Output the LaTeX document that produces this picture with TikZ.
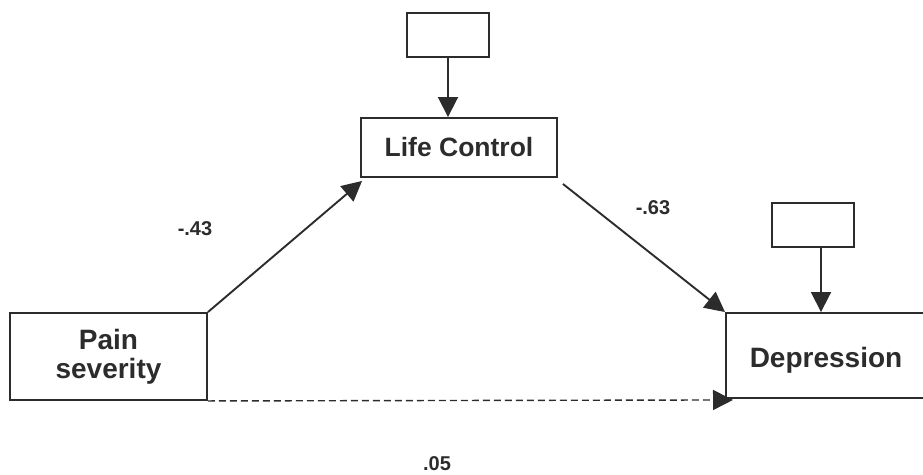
\documentclass[tikz,border=0pt]{standalone}
\usepackage{fontspec}
\setmainfont{Liberation Sans}
\usetikzlibrary{arrows.meta,calc}
\definecolor{ink}{HTML}{2C2C2C}
\tikzset{
  box/.style={draw=ink, line width=1.9pt, rectangle, inner sep=0pt},
  varlabel/.style={text=ink, font=\bfseries\fontsize{28}{31}\selectfont, align=center},
  coef/.style={text=ink, font=\bfseries\fontsize{20}{22}\selectfont},
  path/.style={draw=ink, line width=1.9pt, -{Triangle[length=20pt,width=20pt]}},
}
\begin{document}
\begin{tikzpicture}[x=1pt,y=-1pt]
\useasboundingbox (0,0) rectangle (923,474);
% variables
\node[box, minimum width=197pt, minimum height=87pt] (pain) at (108.5,356.5) {};
\node[varlabel] at (pain.center) {Pain\\[-2pt]severity};
\node[box, minimum width=196pt, minimum height=59pt] (life) at (459,147.5) {};
\node[varlabel, font=\bfseries\fontsize{26.5}{29}\selectfont] at (life.center) {Life Control};
\node[box, minimum width=204pt, minimum height=85pt, anchor=west] (dep) at (725,355.5) {};
\node[varlabel] at (826,360) {Depression};
% disturbance terms
\node[box, minimum width=82pt, minimum height=44pt] (e1) at (448,35) {};
\node[box, minimum width=82pt, minimum height=44pt] (e2) at (813,225) {};
% paths
\draw[path] (e1.south) -- (e1.south |- life.north);
\draw[path] ([xshift=8pt]e2.south) -- ([xshift=8pt]e2.south |- dep.north);
\draw[path] (pain.north east) -- ([shift={(2pt,-3pt)}]life.south west);
\draw[path] ([shift={(5pt,-6pt)}]life.south east) -- (dep.north west);
\draw[path, dashed, dash pattern=on 7pt off 4pt, line width=1.4pt] (pain.south east) -- ([shift={(8pt,-1pt)}]dep.south west);
% coefficients
\node[coef] (a) at (195,229) {-.43};
\node[coef] (b) at (653,208) {-.63};
\node[coef] (c) at (437,464) {.05};
\end{tikzpicture}
\end{document}
